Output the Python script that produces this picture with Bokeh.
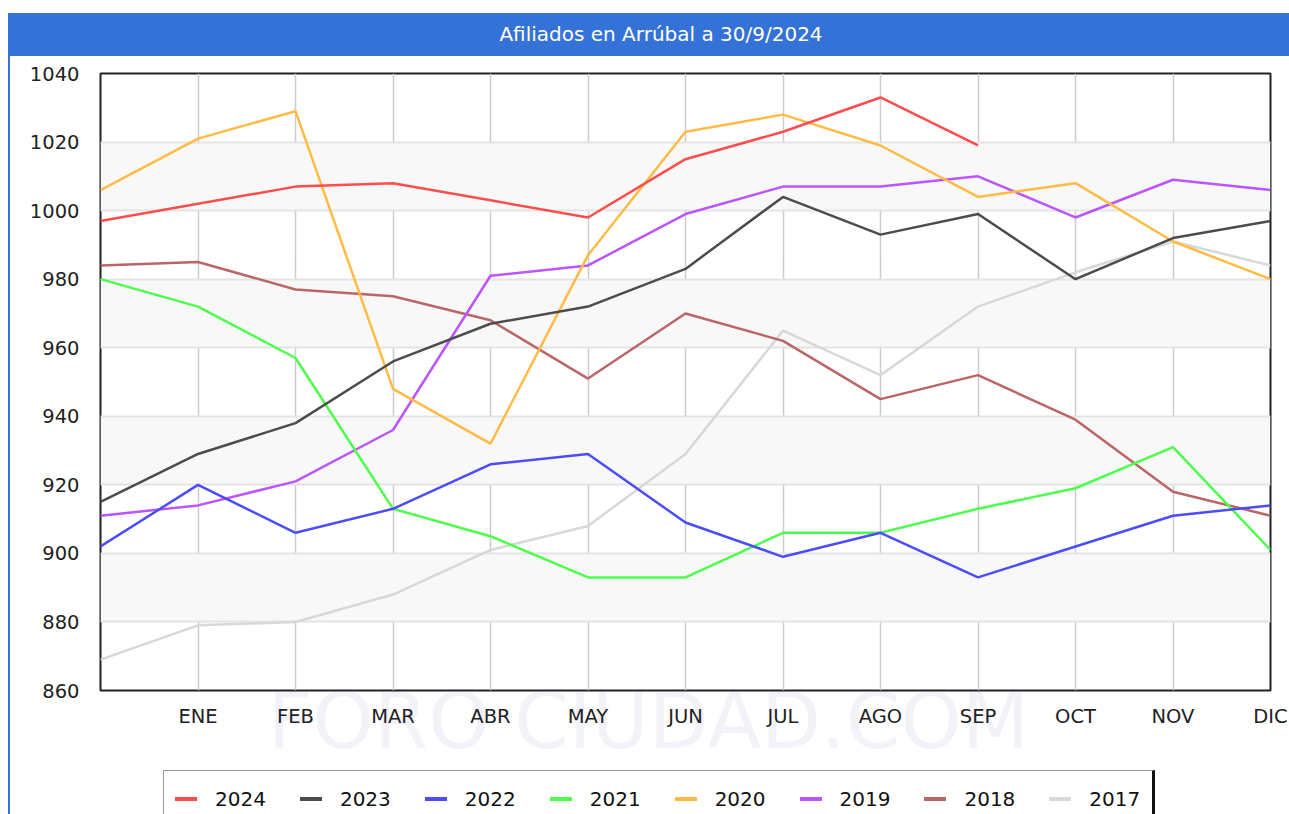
from bokeh.plotting import figure
from bokeh.models import FixedTicker, Div, Range1d
from bokeh.layouts import column, row
from bokeh.embed import file_html
from bokeh.resources import INLINE

title_text = "Afiliados en Arrúbal a 30/9/2024"
watermark = "FORO CIUDAD.COM"
months = ["", "ENE", "FEB", "MAR", "ABR", "MAY", "JUN", "JUL", "AGO", "SEP", "OCT", "NOV", "DIC"]
y_ticks = [860, 880, 900, 920, 940, 960, 980, 1000, 1020, 1040]

years = ["2024", "2023", "2022", "2021", "2020", "2019", "2018", "2017"]
y2024 = [997, 1002, 1007, 1008, 1003, 998, 1015, 1023, 1033, 1019]
y2023 = [915, 929, 938, 956, 967, 972, 983, 1004, 993, 999, 980, 992, 997]
y2022 = [902, 920, 906, 913, 926, 929, 909, 899, 906, 893, 902, 911, 914]
y2021 = [980, 972, 957, 913, 905, 893, 893, 906, 906, 913, 919, 931, 901]
y2020 = [1006, 1021, 1029, 948, 932, 987, 1023, 1028, 1019, 1004, 1008, 991, 980]
y2019 = [911, 914, 921, 936, 981, 984, 999, 1007, 1007, 1010, 998, 1009, 1006]
y2018 = [984, 985, 977, 975, 968, 951, 970, 962, 945, 952, 939, 918, 911]
y2017 = [869, 879, 880, 888, 901, 908, 929, 965, 952, 972, 982, 991, 984]
series = [y2024, y2023, y2022, y2021, y2020, y2019, y2018, y2017]
colors = ["#ff4c4c", "#4c4c4c", "#4c4cff", "#4cff4c", "#ffbb44", "#bb55ff", "#bb6666", "#d8d8d8"]

FONT = "DejaVu Sans"
BLUE = "#3572d8"

strip = Div(text="", width=2, height=801, margin=(13, 0, 0, 8),
            styles={"background-color": BLUE})

header = Div(
    text=('<div style="box-sizing:border-box;width:1279px;height:43px;line-height:43px;'
          'padding-left:23px;text-align:center;color:white;font-family:\'DejaVu Sans\';'
          'font-size:20px;background:' + BLUE + ';">' + title_text + '</div>'),
    width=1279, height=43, margin=(13, 0, 0, 0),
)

p = figure(width=1279, height=714, title=None,
           x_range=Range1d(0, len(months) - 1), y_range=Range1d(y_ticks[0], y_ticks[-1]),
           output_backend="svg", toolbar_location=None, margin=(0, 0, 0, 0),
           min_border_left=90, min_border_right=19, min_border_top=17, min_border_bottom=80)
p.background_fill_color = "white"
p.border_fill_color = "white"
p.outline_line_color = "#222222"
p.outline_line_width = 2

p.xaxis.ticker = FixedTicker(ticks=list(range(len(months))))
p.xaxis.major_label_overrides = {i: m for i, m in enumerate(months)}
p.yaxis.ticker = FixedTicker(ticks=y_ticks)
for ax in (p.xaxis, p.yaxis):
    ax.axis_line_color = None
    ax.major_tick_line_color = None
    ax.minor_tick_line_color = None
    ax.major_tick_in = 0
    ax.major_tick_out = 0
    ax.major_label_text_font = FONT
    ax.major_label_text_font_size = "19.5px"
    ax.major_label_text_color = "#222222"
p.xaxis.major_label_standoff = 14
p.yaxis.major_label_standoff = 21

# faint watermark drawn as the x axis label, pulled up over the month labels
p.xaxis.axis_label = watermark + "\u00a0\u00a0\u00a0"
p.xaxis.axis_label_text_font = FONT
p.xaxis.axis_label_text_font_style = "normal"
p.xaxis.axis_label_text_font_size = "78px"
p.xaxis.axis_label_text_color = "#101090"
p.xaxis.axis_label_text_alpha = 0.055
p.xaxis.axis_label_standoff = -55

p.xgrid.grid_line_color = "#cccccc"
p.xgrid.grid_line_width = 1.5
p.ygrid.grid_line_color = "#e4e4e4"
p.ygrid.grid_line_width = 2
p.ygrid.band_fill_color = "#f8f8f8"
p.ygrid.band_fill_alpha = 1

for yr, vals, col in reversed(list(zip(years, series, colors))):
    p.line(x=list(range(len(vals))), y=vals, line_color=col, line_width=2.5)

# legend box below the chart (cut by the window like in the reference)
items_html = "".join(
    '<span style="display:inline-block;width:22px;height:4px;background:' + col +
    ';margin-right:18px;vertical-align:middle;"></span>'
    '<span style="display:inline-block;margin-right:34px;vertical-align:middle;">' + yr + '</span>'
    for yr, col in zip(years, colors)
)
legend_div = Div(
    text=('<div style="box-sizing:border-box;width:992px;height:44px;overflow:hidden;white-space:nowrap;'
          'border-top:1.5px solid #999;border-left:1.5px solid #999;border-right:3px solid #111;'
          'padding:14px 0 0 11px;line-height:24px;font-family:\'DejaVu Sans\';font-size:20px;'
          'color:#111;background:white;">' + items_html + '</div>'),
    width=992, height=44, margin=(0, 0, 0, 153),
)

layout = row(strip, column(header, p, legend_div, spacing=0), spacing=0)
open("out.html", "w").write(file_html(layout, INLINE))
